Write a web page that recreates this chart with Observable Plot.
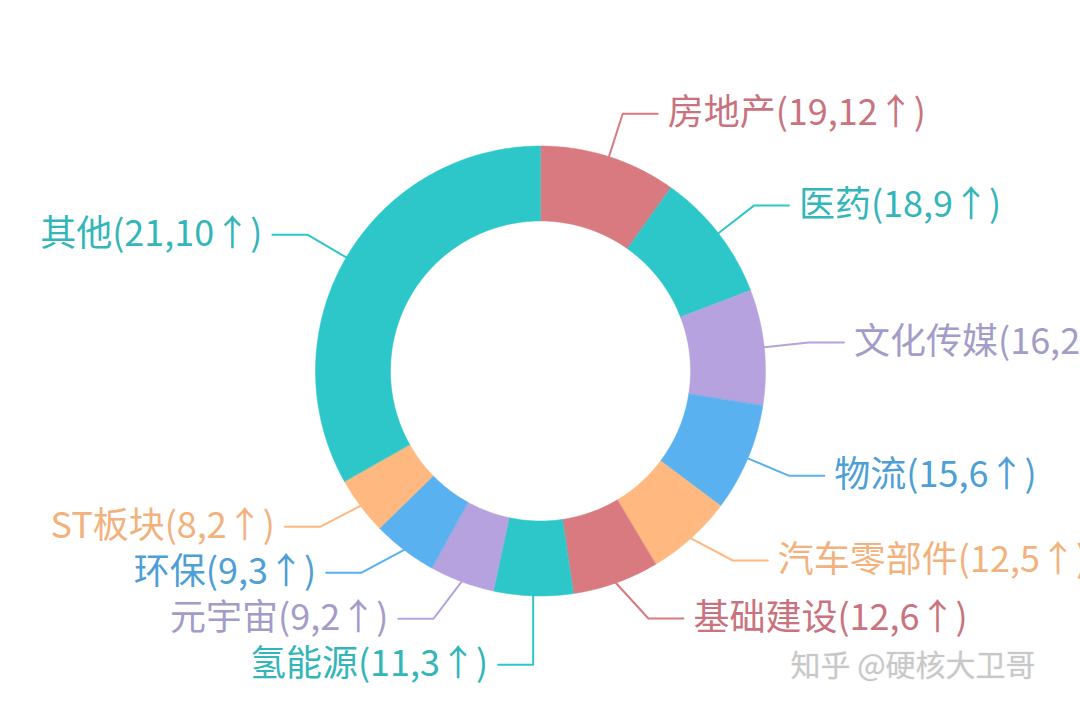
<!DOCTYPE html>
<html>
<head>
<meta charset="utf-8">
<script src="https://cdn.jsdelivr.net/npm/d3@7"></script>
<script src="https://cdn.jsdelivr.net/npm/@observablehq/plot@0.6"></script>
<style>
  html, body { margin: 0; padding: 0; background: #ffffff; overflow: hidden; }
  #chart svg { overflow: hidden; display: block; }
</style>
</head>
<body>
<div id="chart"></div>
<script>
// ---- data ----
const sectors = ["房地产", "医药", "文化传媒", "物流", "汽车零部件", "基础建设", "氢能源", "元宇宙", "环保", "ST板块", "其他"];
const counts  = [19, 18, 16, 15, 12, 12, 11, 9, 9, 8, 21];
const ups     = [12, 9, 2, 6, 5, 6, 3, 2, 3, 2, 10];
// slice sizes (the "其他" slice is drawn much larger than its label count)
const sliceValues = [19, 18, 16, 15, 12, 12, 11, 9, 9, 8, 64];
const sliceColors = ["#d87a80", "#2ec7c9", "#b6a2de", "#5ab1ef", "#ffb980", "#d87a80", "#2ec7c9", "#b6a2de", "#5ab1ef", "#ffb980", "#2ec7c9"];
const textColors  = ["#c9737e", "#33b6b9", "#a49cc8", "#4d9fd6", "#f2b27e", "#c9737e", "#33b6b9", "#a49cc8", "#4d9fd6", "#f2b27e", "#33b6b9"];

// ---- layout ----
const W = 1080, H = 710;
const cx = 540, cy = 370.5, R = 225, r0 = 150;
const len1 = 45, len2 = 35, gap = 10, lineH = 46;
const rightMaxY = 618, boundGap = 58;

const arcs = d3.pie().sort(null).value(d => d)(sliceValues);

// slice polygons
const slicePts = [];
arcs.forEach((a, i) => {
  const n = Math.max(2, Math.ceil((a.endAngle - a.startAngle) / 0.01));
  const outer = d3.range(n + 1).map(k => a.startAngle + (a.endAngle - a.startAngle) * k / n);
  outer.forEach(t => slicePts.push({name: sectors[i], color: sliceColors[i], x: cx + R * Math.sin(t), y: cy - R * Math.cos(t)}));
  outer.slice().reverse().forEach(t => slicePts.push({name: sectors[i], color: sliceColors[i], x: cx + r0 * Math.sin(t), y: cy - r0 * Math.cos(t)}));
});

// label anchors
const labels = arcs.map((a, i) => {
  const m = (a.startAngle + a.endAngle) / 2;
  const s = Math.sin(m), c = Math.cos(m);
  return {i, side: s >= 0 ? 1 : -1, x1: cx + R * s, y1: cy - R * c, y0: cy - (R + len1) * c, y: cy - (R + len1) * c};
});

function spread(items, maxY) {
  items.sort((a, b) => a.y0 - b.y0);
  let blocks = items.map(d => ({items: [d]}));
  const center = b => d3.mean(b.items, d => d.y0);
  let changed = true;
  while (changed) {
    changed = false;
    for (let k = 0; k < blocks.length - 1; k++) {
      const A = blocks[k], B = blocks[k + 1];
      const aEnd = center(A) + (A.items.length - 1) * lineH / 2;
      const bStart = center(B) - (B.items.length - 1) * lineH / 2;
      if (bStart - aEnd < lineH) {
        blocks.splice(k, 2, {items: A.items.concat(B.items)});
        changed = true;
        break;
      }
    }
  }
  blocks.forEach(b => {
    const c = center(b), n = b.items.length;
    b.items.forEach((d, j) => { d.y = c + (j - (n - 1) / 2) * lineH; });
  });
  if (maxY != null) {
    for (let k = items.length - 1; k >= 0; k--) {
      const lim = k === items.length - 1 ? maxY : items[k + 1].y - boundGap;
      items[k].y = Math.min(items[k].y, lim);
    }
  }
}
spread(labels.filter(d => d.side > 0), rightMaxY);
spread(labels.filter(d => d.side < 0));

const r2 = R + len1;
labels.forEach(d => {
  const dx = Math.sqrt(Math.max(0, r2 * r2 - (d.y - cy) * (d.y - cy)));
  d.x2 = d.side > 0 ? Math.max(d.x1, cx + dx) : Math.min(d.x1, cx - dx);
  d.x3 = d.x2 + d.side * len2;
  d.tx = d.x3 + d.side * gap;
});

const leaderPts = [];
labels.forEach(d => {
  const name = sectors[d.i], color = sliceColors[d.i];
  leaderPts.push({name, color, x: d.x1, y: d.y1});
  leaderPts.push({name, color, x: d.x2, y: d.y});
  leaderPts.push({name, color, x: d.x3, y: d.y});
});

const labelRows = labels.map(d => ({
  text: `${sectors[d.i]}(${counts[d.i]},${ups[d.i]}↑)`,
  x: d.tx, y: d.y, color: textColors[d.i], anchor: d.side > 0 ? "start" : "end"
}));

const font = "'Noto Sans CJK SC', 'Noto Sans', sans-serif";

const plot = Plot.plot({
  width: W, height: H,
  margin: 0,
  x: {domain: [0, W], range: [0, W], axis: null},
  y: {domain: [0, H], range: [0, H], axis: null},
  color: {type: "identity"},
  style: {fontFamily: font, background: "#ffffff", overflow: "hidden"},
  marks: [
    Plot.line(slicePts, {x: "x", y: "y", z: "name", fill: "color", stroke: "color", strokeWidth: 0.5, curve: "linear-closed"}),
    Plot.line(leaderPts, {x: "x", y: "y", z: "name", stroke: "color", strokeWidth: 2}),
    Plot.text(labelRows.filter(d => d.anchor === "start"), {x: "x", y: "y", text: "text", fill: "color", fontSize: 36, textAnchor: "start", lineAnchor: "middle"}),
    Plot.text(labelRows.filter(d => d.anchor === "end"), {x: "x", y: "y", text: "text", fill: "color", fontSize: 36, textAnchor: "end", lineAnchor: "middle"}),
    Plot.text(["知乎 @硬核大卫哥"], {x: () => 790, y: () => 666, text: d => d, fill: "#c8c8c8", stroke: "#f4f4f4", strokeWidth: 1, fontSize: 30, textAnchor: "start", lineAnchor: "middle"})
  ]
});
document.getElementById("chart").appendChild(plot);
</script>
</body>
</html>
